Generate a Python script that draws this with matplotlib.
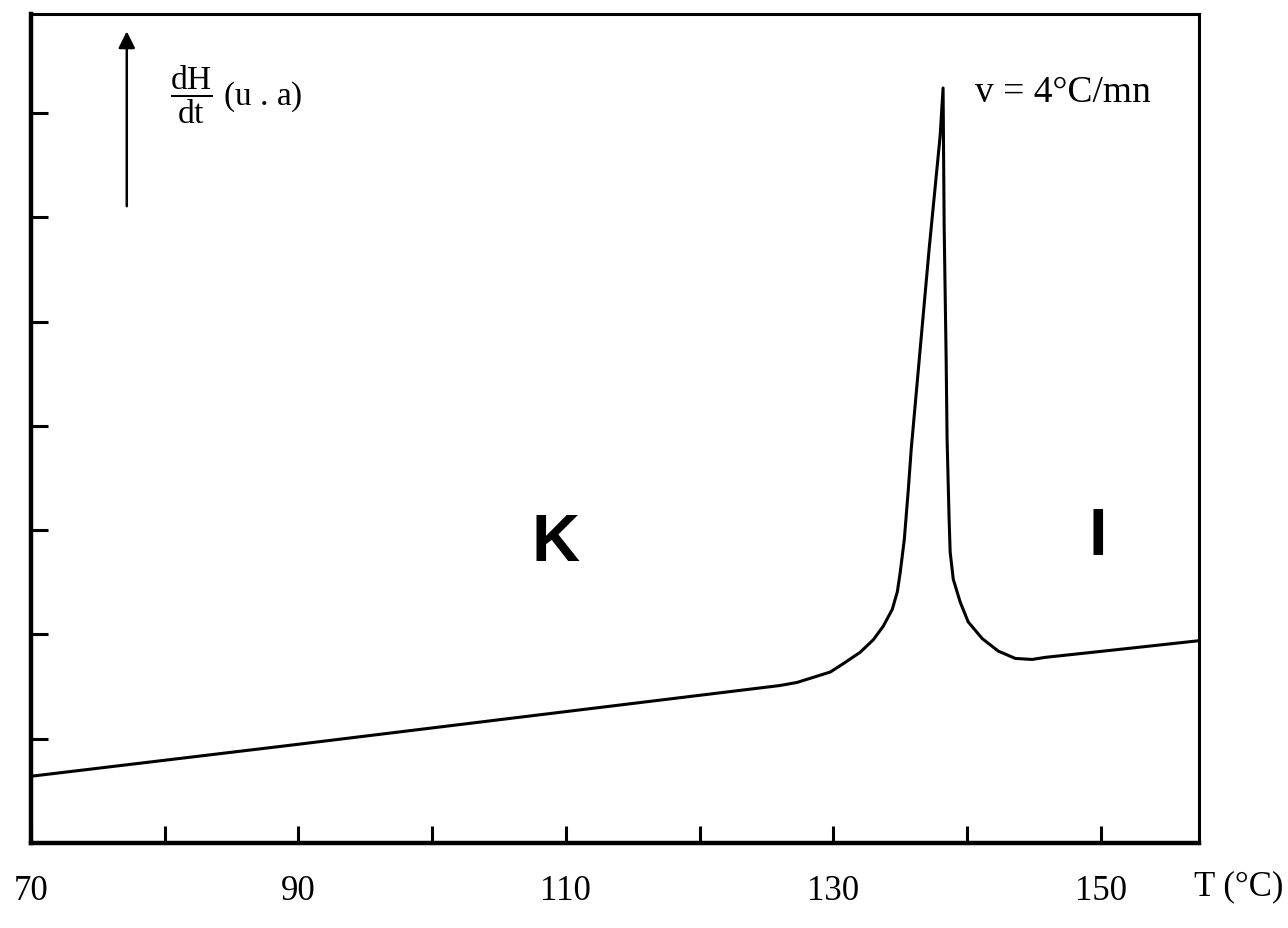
import matplotlib.pyplot as plt

plt.rcParams['mathtext.fontset'] = 'custom'
plt.rcParams['mathtext.rm'] = 'Liberation Serif'

# DSC trace (T in degC, dH/dt in arbitrary units)
temp = [70.0, 90.2, 110.0, 126.0, 127.3, 129.78, 130.75, 132.02, 133.0,
        133.74, 134.41, 134.79, 135.01, 135.31, 135.61, 135.83, 136.43,
        137.17, 137.99, 138.21,
        138.29, 138.44, 138.51, 138.66, 138.74, 138.97, 139.49, 140.09,
        141.14, 142.34, 143.61, 144.87, 145.84, 150.93, 157.35]
dhdt = [0.64, 0.95, 1.26, 1.51, 1.54, 1.64, 1.72, 1.83, 1.95,
        2.08, 2.24, 2.41, 2.60, 2.91, 3.39, 3.78, 4.64,
        5.70, 6.78, 7.24,
        5.92, 4.64, 3.87, 3.11, 2.79, 2.53, 2.31, 2.12,
        1.96, 1.84, 1.77, 1.76, 1.78, 1.85, 1.94]

xticks = [70, 80, 90, 100, 110, 120, 130, 140, 150]
xlabels = ['70', '', '90', '', '110', '', '130', '', '150']
yticks = [1, 2, 3, 4, 5, 6, 7]

fig = plt.figure(figsize=(12.88, 9.29), dpi=100)
ax = fig.add_axes([0.0241, 0.0915, 0.9068, 0.8924])

ax.plot(temp, dhdt, color='black', lw=2.2, solid_joinstyle='round')

ax.set_xlim(70, 157.35)
ax.set_ylim(0, 7.95)
ax.set_xticks(xticks)
ax.set_xticklabels(xlabels, fontfamily='Liberation Serif', fontsize=25)
ax.set_yticks(yticks)
ax.set_yticklabels([])
ax.tick_params(axis='both', direction='in', length=12, width=2.2, color='black')
ax.tick_params(axis='x', pad=22)
for side in ['left', 'bottom']:
    ax.spines[side].set_linewidth(3.2)
for side in ['top', 'right']:
    ax.spines[side].set_linewidth(2.2)

# vertical arrow for dH/dt
ax.annotate('', xy=(77.16, 7.81), xytext=(77.16, 6.08),
            arrowprops=dict(arrowstyle='-|>', color='black', lw=1.8,
                            mutation_scale=25))
ax.text(80.4, 7.18, r'$\dfrac{\mathrm{dH}}{\mathrm{dt}}$ (u . a)',
        fontfamily='Liberation Serif', fontsize=24, va='center', ha='left')
ax.text(140.6, 7.2, 'v = 4°C/mn', fontfamily='Liberation Serif',
        fontsize=27, va='center', ha='left')

ax.text(109.2, 2.88, 'K', fontfamily='Liberation Sans', fontweight='bold',
        fontsize=48, ha='center', va='center')
ax.text(149.8, 2.93, 'I', fontfamily='Liberation Sans', fontweight='bold',
        fontsize=48, ha='center', va='center')

fig.text(0.962, 0.045, 'T (°C)', fontfamily='Liberation Serif',
         fontsize=25, ha='center', va='center')

fig.savefig('out.png', dpi=100)
